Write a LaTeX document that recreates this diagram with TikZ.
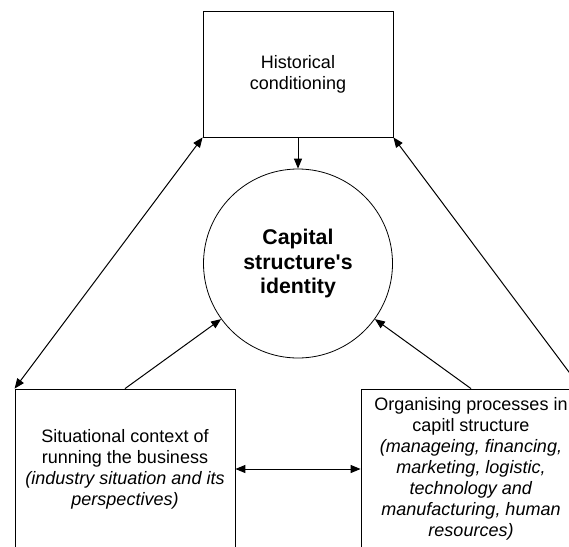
\documentclass[tikz,border=0pt]{standalone}
\usepackage{fontspec}
\setmainfont{Liberation Sans}
\usetikzlibrary{arrows.meta}

\begin{document}
\begin{tikzpicture}[x=1pt,y=-1pt,>={Triangle[length=10pt,width=8pt]},
    box/.style={draw,rectangle,line width=.8pt,align=center,inner sep=0pt,
      font=\fontsize{18}{21}\selectfont},
    link/.style={line width=1pt}]
  \useasboundingbox (0,0) rectangle (569,546);
  \clip (0,0) rectangle (569,546);

  \node[box,minimum width=190pt,minimum height=126pt] (hist) at (298,74)
    {Historical\\conditioning};
  \node[draw,circle,line width=.8pt,minimum size=189pt,inner sep=0pt,align=center,
    font=\bfseries\fontsize{21.3}{24.5}\selectfont] (ident) at (298,263.5)
    {Capital\\structure\textquotesingle s\\identity};

  \node[box,minimum width=220pt,minimum height=160pt] (sit) at (125,469)
    {Situational context of\\running the business\\
     \textit{(industry situation and its}\\\textit{perspectives)}};
  \node[box,minimum width=220pt,minimum height=160pt] (org) at (471,469)
    {Organising processes in\\capitl structure\\
     \textit{(manageing, financing,}\\\textit{marketing, logistic,}\\
     \textit{technology and}\\\textit{manufacturing, human}\\\textit{resources)}};

  \draw[link,->] (hist) -- (ident);
  \draw[link,->] (sit.north) -- (ident);
  \draw[link,->] (org.north) -- (ident);
  \draw[link,<->] (sit.north west) -- (hist.south west);
  \draw[link,<->] (org.north east) -- (hist.south east);
  \draw[link,<->] (sit) -- (org);
  % \draw[link,->] (sit.north east) -- (ident);
\end{tikzpicture}
\end{document}
